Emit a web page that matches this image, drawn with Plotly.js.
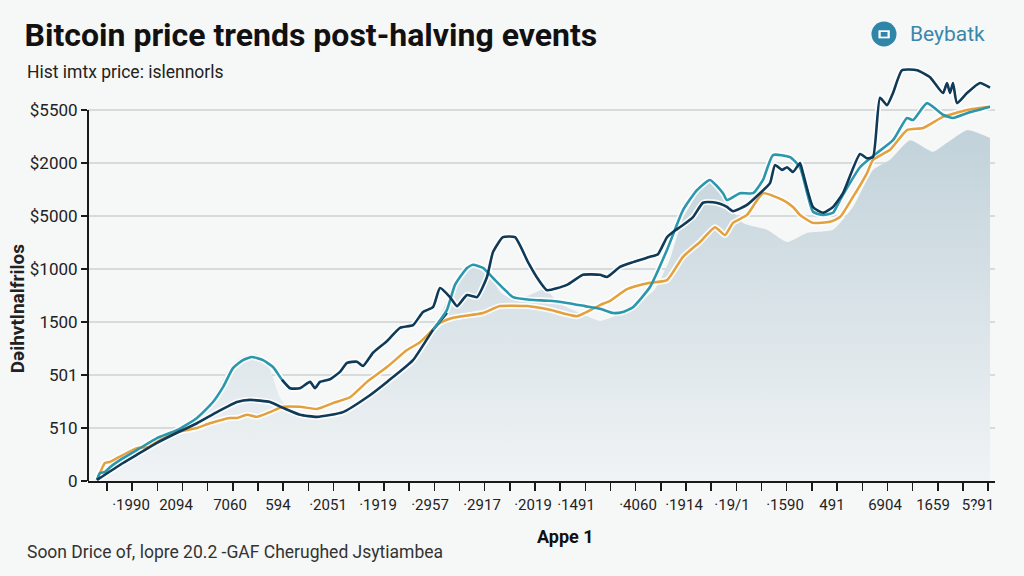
<!DOCTYPE html>
<html>
<head>
<meta charset="utf-8">
<script src="https://cdn.plot.ly/plotly-3.0.1.min.js"></script>
<style>
  html, body { margin: 0; padding: 0; background: #f6f7f7; }
  #chart { width: 1024px; height: 576px; }
</style>
</head>
<body>
<div id="chart"></div>
<script>
// ---- Data ----
const yTickValues = [0, 1, 2, 3, 4, 5, 6, 7];
const yTickLabels = ['0', '510', '501', '1500', '$1000', '$5000', '$2000', '$5500'];

const xLabelValues = [1.64, 3.44, 5.6, 7.52, 9.52, 11.52, 13.6, 15.68, 17.72, 19.44, 21.92, 23.76, 25.68, 27.8, 29.68, 31.8, 33.72, 35.52];
const xLabelTexts = ['·1990', '2094', '7060', '594', '·2051', '·1919', '·2957', '·2917', '·2019', '·1491', '·4060', '·1914', '·19/1', '·1590', '491', '6904', '1659', '5?91'];

// Shaded historical band
const areaX = [0.20, 1.20, 2.40, 3.60, 4.40, 5.00, 5.52, 6.00, 6.60, 7.04, 7.28, 7.60, 8.00, 9.20, 10.20, 11.20, 12.40, 13.60, 14.20, 14.80, 15.40, 16.00, 16.40, 16.88, 17.60, 18.20, 18.80, 19.60, 20.40, 21.20, 22.00, 22.60, 23.20, 23.72, 24.40, 24.88, 25.48, 26.12, 27.08, 27.88, 28.68, 29.72, 30.52, 31.32, 32.00, 32.80, 33.72, 34.28, 35.08, 36.00];
const areaY = [0.02, 0.36, 0.68, 0.96, 1.25, 1.62, 2.09, 2.32, 2.40, 2.28, 2.00, 1.57, 1.34, 1.19, 1.28, 1.60, 2.06, 2.74, 3.32, 3.79, 4.08, 3.89, 3.57, 3.43, 3.51, 3.62, 3.34, 3.17, 3.02, 3.15, 3.38, 3.62, 4.19, 4.96, 5.49, 5.68, 5.25, 4.87, 4.74, 4.51, 4.68, 4.74, 5.17, 5.87, 6.06, 6.43, 6.21, 6.38, 6.62, 6.47];

// Teal series, first part (early cycle)
const tealAX = [0.28, 0.40, 0.60, 0.80, 1.32, 2.00, 2.68, 3.48, 4.28, 4.92, 5.32, 5.72, 6.12, 6.48, 6.92, 7.32, 7.68, 8.00];
const tealAY = [0.02, 0.15, 0.17, 0.26, 0.43, 0.62, 0.81, 0.96, 1.19, 1.49, 1.77, 2.13, 2.28, 2.34, 2.28, 2.15, 1.91, 1.75];

// Teal series, second part
const tealBX = [13.72, 14.28, 14.60, 15.08, 15.32, 15.72, 16.12, 16.52, 16.92, 17.60, 18.40, 19.08, 19.80, 20.40, 20.92, 21.32, 21.72, 22.40, 23.08, 23.72, 24.28, 24.80, 25.32, 25.48, 26.00, 26.52, 26.92, 27.32, 28.00, 28.40, 28.92, 29.32, 29.72, 30.00, 30.80, 31.48, 32.12, 32.68, 32.92, 33.48, 34.12, 34.52, 35.08, 36.00];
const tealBY = [2.85, 3.23, 3.70, 4.02, 4.08, 4.02, 3.83, 3.64, 3.47, 3.42, 3.40, 3.36, 3.30, 3.25, 3.17, 3.19, 3.28, 3.66, 4.36, 5.11, 5.49, 5.68, 5.43, 5.30, 5.43, 5.43, 5.68, 6.15, 6.11, 5.92, 5.08, 5.02, 5.06, 5.30, 5.92, 6.19, 6.43, 6.85, 6.81, 7.13, 6.91, 6.85, 6.94, 7.06];

// Navy series, smooth early part
const navyAX = [0.28, 1.32, 2.00, 2.68, 3.48, 4.28, 5.08, 5.88, 6.40, 7.20, 7.72, 8.40, 9.08, 10.12, 11.08, 11.88, 12.92, 13.72, 14.28];
const navyAY = [0.02, 0.34, 0.53, 0.72, 0.91, 1.09, 1.30, 1.49, 1.53, 1.49, 1.38, 1.25, 1.21, 1.30, 1.58, 1.87, 2.28, 2.85, 3.17];

// Navy series, volatile later part
const navyBX = [7.68, 8.00, 8.40, 8.80, 9.00, 9.20, 9.60, 10.00, 10.28, 10.68, 10.92, 11.32, 11.88, 12.40, 12.92, 13.32, 13.72, 14.00, 14.40, 14.68, 15.08, 15.48, 15.88, 16.12, 16.52, 17.00, 17.52, 17.92, 18.28, 19.08, 19.72, 20.40, 20.68, 21.20, 21.72, 22.40, 22.72, 23.08, 23.32, 23.72, 24.12, 24.52, 24.92, 25.20, 25.48, 25.72, 26.28, 26.80, 27.20, 27.40, 27.68, 27.88, 28.12, 28.40, 28.52, 28.92, 29.32, 29.72, 30.12, 30.80, 31.08, 31.32, 31.60, 31.88, 32.12, 32.48, 33.08, 33.60, 34.12, 34.28, 34.40, 34.52, 34.68, 35.08, 35.60, 36.00];
const navyBY = [1.91, 1.75, 1.75, 1.87, 1.75, 1.87, 1.92, 2.06, 2.23, 2.25, 2.17, 2.42, 2.64, 2.89, 2.94, 3.19, 3.28, 3.64, 3.47, 3.30, 3.51, 3.47, 3.85, 4.32, 4.60, 4.60, 4.13, 3.81, 3.60, 3.70, 3.89, 3.89, 3.85, 4.04, 4.13, 4.23, 4.28, 4.60, 4.70, 4.83, 4.98, 5.25, 5.26, 5.23, 5.17, 5.09, 5.21, 5.43, 5.62, 5.96, 5.87, 5.92, 5.83, 6.00, 5.81, 5.17, 5.06, 5.17, 5.43, 6.17, 6.09, 6.11, 7.23, 7.09, 7.32, 7.75, 7.75, 7.62, 7.32, 7.51, 7.32, 7.51, 7.13, 7.32, 7.51, 7.42];

// Orange series
const orangeX = [0.28, 0.60, 0.80, 1.08, 1.88, 2.32, 2.68, 3.48, 4.28, 4.80, 5.60, 5.88, 6.28, 6.68, 7.20, 7.72, 8.40, 9.08, 9.72, 10.40, 11.08, 11.88, 12.68, 13.20, 14.00, 14.52, 15.72, 16.40, 17.48, 18.40, 19.48, 20.40, 20.80, 21.48, 22.40, 23.08, 23.72, 24.40, 25.00, 25.40, 25.72, 26.28, 26.92, 27.72, 28.12, 28.40, 28.92, 29.60, 30.00, 30.52, 31.08, 31.32, 32.00, 32.68, 33.32, 34.12, 35.08, 36.00];
const orangeY = [0.02, 0.34, 0.36, 0.43, 0.62, 0.64, 0.74, 0.92, 1.00, 1.09, 1.19, 1.19, 1.25, 1.21, 1.30, 1.40, 1.40, 1.36, 1.47, 1.58, 1.87, 2.15, 2.47, 2.62, 2.98, 3.08, 3.17, 3.30, 3.30, 3.23, 3.11, 3.32, 3.40, 3.62, 3.74, 3.79, 4.23, 4.51, 4.79, 4.64, 4.87, 5.02, 5.43, 5.30, 5.17, 5.02, 4.87, 4.89, 4.98, 5.36, 5.81, 6.06, 6.25, 6.62, 6.66, 6.87, 7.00, 7.06];

// ---- Styling ----
const TEAL = '#2a97ad';
const NAVY = '#0f3a58';
const ORANGE = '#e3a03c';
const HALO = 'rgba(255,255,255,0.85)';
const FONT = 'Roboto, "Noto Sans", sans-serif';

function lineTrace(x, y, color, width, xaxis) {
  return { type: 'scatter', mode: 'lines', x: x, y: y, hoverinfo: 'skip', xaxis: xaxis || 'x',
           line: { color: color, width: width, shape: 'spline', smoothing: 0.5 } };
}

const traces = [
  { type: 'scatter', mode: 'lines', x: areaX, y: areaY, fill: 'tozeroy',
    hoverinfo: 'skip', line: { color: 'rgba(0,0,0,0)', width: 0, shape: 'spline', smoothing: 0.5 },
    fillgradient: { type: 'vertical', start: 0, stop: 6.8,
      colorscale: [[0, 'rgb(240,243,245)'], [1, 'rgb(192,209,217)']] } },
  lineTrace(orangeX, orangeY, HALO, 6),
  lineTrace(tealAX, tealAY, HALO, 6),
  lineTrace(navyAX, navyAY, HALO, 6),
  lineTrace(tealBX, tealBY, HALO, 6),
  lineTrace(navyBX, navyBY, HALO, 6),
  lineTrace(orangeX, orangeY, ORANGE, 2.5),
  lineTrace(tealAX, tealAY, TEAL, 2.6),
  lineTrace(navyAX, navyAY, NAVY, 2.6),
  lineTrace(tealBX, tealBY, TEAL, 2.6),
  // topmost line lives on the overlaying label axis (same range as x)
  lineTrace(navyBX, navyBY, NAVY, 2.6, 'x2')
];

// tick marks along the x axis (layout only)
const tickMarks = [];
for (let i = 0; i < 36; i++) tickMarks.push(0.68 + 1.007 * i);

const X_RANGE = [-0.08, 36.2];

const layout = {
  width: 1024, height: 576,
  margin: { l: 88, r: 29, t: 57, b: 95 },
  paper_bgcolor: '#f6f7f7', plot_bgcolor: '#f6f7f7',
  showlegend: false,
  font: { family: FONT, color: '#222' },
  title: { text: '<b>Bitcoin price trends post-halving events</b>', x: 0.024, xanchor: 'left',
           y: 0.94, yanchor: 'middle', font: { family: FONT, size: 32, color: '#111' } },
  xaxis: {
    range: X_RANGE, showgrid: false, zeroline: false, fixedrange: true,
    showline: true, linecolor: '#1a1a1a', linewidth: 2,
    tickmode: 'array', tickvals: tickMarks, ticktext: tickMarks.map(() => ''),
    ticks: 'outside', ticklen: 8, tickcolor: '#1a1a1a', tickwidth: 1.5
  },
  xaxis2: {
    range: X_RANGE, overlaying: 'x', anchor: 'y', side: 'bottom', matches: 'x',
    showgrid: false, zeroline: false, showline: false, fixedrange: true,
    tickmode: 'array', tickvals: xLabelValues, ticktext: xLabelTexts,
    ticks: 'outside', ticklen: 10, tickcolor: 'rgba(0,0,0,0)',
    tickfont: { family: FONT, size: 15, color: '#222' }
  },
  yaxis: {
    range: [0, 8], fixedrange: true, zeroline: false, showline: false,
    tickmode: 'array', tickvals: yTickValues, ticktext: yTickLabels,
    showgrid: true, gridcolor: '#d8dbdc', gridwidth: 1.5,
    ticks: 'outside', ticklen: 6, tickcolor: '#1a1a1a', tickwidth: 1.5,
    tickfont: { family: FONT, size: 17, color: '#222' }
  },
  shapes: [
    { type: 'line', xref: 'paper', yref: 'y', x0: 0, x1: 0, y0: 0, y1: 7,
      line: { color: '#1a1a1a', width: 2 } },
    { type: 'circle', xref: 'paper', yref: 'paper', x0: 0.8638, x1: 0.8914, y0: 1.0248, y1: 1.0837,
      fillcolor: '#2f86a9', line: { width: 0 } },
    { type: 'rect', xref: 'paper', yref: 'paper', x0: 0.8715, x1: 0.8840, y0: 1.0440, y1: 1.0630,
      fillcolor: '#ffffff', line: { width: 0 } },
    { type: 'rect', xref: 'paper', yref: 'paper', x0: 0.8740, x1: 0.8815, y0: 1.0480, y1: 1.0590,
      fillcolor: '#2f86a9', line: { width: 0 } }
  ],
  annotations: [
    { text: 'Hist imtx price: islennorls', xref: 'paper', yref: 'paper', x: -0.0695, y: 0.9646,
      xanchor: 'left', yanchor: 'middle', showarrow: false, font: { family: FONT, size: 17.5, color: '#222' } },
    { text: 'Beybatk', xref: 'paper', yref: 'paper', x: 0.904, y: 1.054,
      xanchor: 'left', yanchor: 'middle', showarrow: false, font: { family: FONT, size: 21, color: '#3a87ad' } },
    { text: '<b>Dəihvtlnalfrilos</b>', xref: 'paper', yref: 'paper', x: -0.078, y: 0.408,
      xanchor: 'center', yanchor: 'middle', textangle: -90, showarrow: false,
      font: { family: FONT, size: 19, color: '#222' } },
    { text: '<b>Appe 1</b>', xref: 'paper', yref: 'paper', x: 0.526, y: -0.132,
      xanchor: 'center', yanchor: 'middle', showarrow: false, font: { family: FONT, size: 18, color: '#111' } },
    { text: 'Soon Drice of, lopre 20.2 -GAF Cherughed Jsytiambea', xref: 'paper', yref: 'paper',
      x: -0.0695, y: -0.1675, xanchor: 'left', yanchor: 'middle', showarrow: false,
      font: { family: FONT, size: 17.5, color: '#333' } }
  ]
};

Plotly.newPlot('chart', traces, layout, { displayModeBar: false, staticPlot: true });
</script>
</body>
</html>
